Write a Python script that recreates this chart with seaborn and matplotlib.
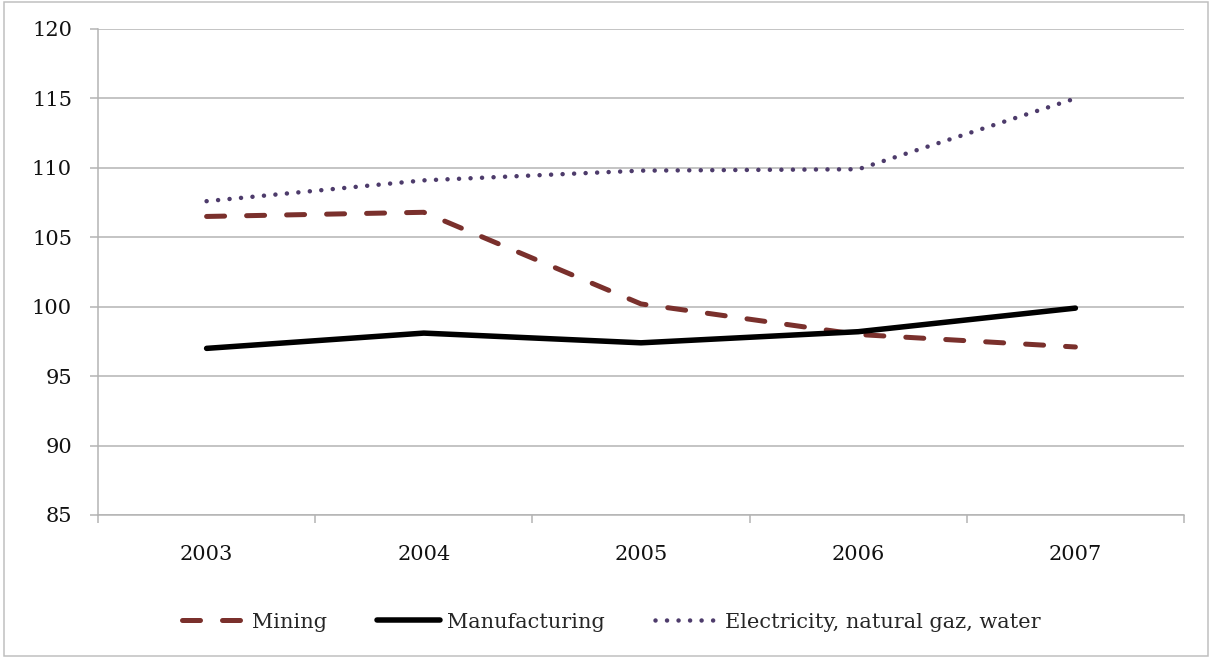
import matplotlib
matplotlib.use("Agg")
import matplotlib.pyplot as plt
from matplotlib.patches import Rectangle
import seaborn as sns
import numpy as np

years = ["2003", "2004", "2005", "2006", "2007"]
mining = [106.5, 106.8, 100.2, 98.0, 97.1]
manufacturing = [97.0, 98.1, 97.4, 98.2, 99.9]
electricity = [107.6, 109.1, 109.8, 109.9, 115.0]
y_ticks = [85, 90, 95, 100, 105, 110, 115, 120]

sns.set_theme(style="white")
plt.rcParams["font.family"] = ["DejaVu Serif"]

fig = plt.figure(figsize=(12.13, 6.57), dpi=100)
ax = fig.add_axes([98 / 1213, 1 - 515 / 657, (1184 - 98) / 1213, (515 - 29) / 657])

pos = np.arange(len(years))
px = 72 / 100  # points per pixel

sns.lineplot(x=pos, y=mining, ax=ax, color="#7a302c", linewidth=5 * px,
             linestyle=(0, (3.6, 4.4)), dash_capstyle="round",
             label="Mining", zorder=3)
sns.lineplot(x=pos, y=manufacturing, ax=ax, color="#000000", linewidth=5.5 * px,
             solid_capstyle="round", solid_joinstyle="round",
             label="Manufacturing", zorder=3)
sns.lineplot(x=pos, y=electricity, ax=ax, color="#4d3b6b", linewidth=4.5 * px,
             linestyle=(0, (0.01, 2.55)), dash_capstyle="round",
             label="Electricity, natural gaz, water", zorder=3)

grid_c = "#b3b3b3"
ax.set_xlim(-0.5, len(years) - 0.5)
ax.set_ylim(85, 120)
ax.set_yticks(y_ticks)
ax.set_yticklabels([str(v) for v in y_ticks])
ax.yaxis.grid(True, color=grid_c, lw=1.5 * px)
ax.xaxis.grid(False)

# boundary ticks between categories, labels centred on each category
ax.set_xticks(np.arange(-0.5, len(years), 1.0))
ax.set_xticklabels([])
ax.set_xticks(pos, minor=True)
ax.set_xticklabels(years, minor=True)
ax.tick_params(axis="x", which="major", direction="out", length=8 * px,
               width=1.5 * px, color=grid_c, bottom=True)
ax.tick_params(axis="x", which="minor", length=0, pad=30 * px,
               labelsize=15, labelcolor="#111111")
ax.tick_params(axis="y", direction="out", length=8 * px, width=1.5 * px,
               color=grid_c, left=True, pad=18 * px, labelsize=15,
               labelcolor="#111111")

for side in ["top", "right"]:
    ax.spines[side].set_visible(False)
for side in ["left", "bottom"]:
    ax.spines[side].set_color(grid_c)
    ax.spines[side].set_linewidth(1.5 * px)

ax.set_xlabel("")
ax.set_ylabel("")

handles, labels = ax.get_legend_handles_labels()
ax.legend_.remove()
fig.legend(handles, labels, loc="center", bbox_to_anchor=(0.504, 35 / 657),
           ncol=3, frameon=False, fontsize=15, handlelength=3.0,
           handletextpad=0.35, columnspacing=2.4)

fig.patches.append(Rectangle((4 / 1213, 1 / 657), 1204 / 1213, 654 / 657,
                             transform=fig.transFigure, fill=False,
                             edgecolor="#bfbfbf", lw=1.5 * px))

fig.savefig("out.png", dpi=100)
